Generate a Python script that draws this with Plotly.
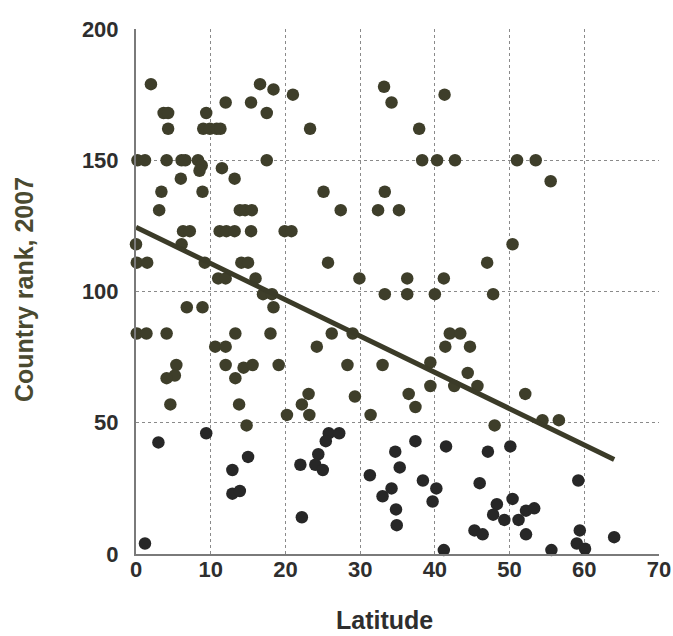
import plotly.graph_objects as go

latitude = [
    2.0, 3.7, 4.3, 4.3, 0.2, 1.2, 4.1, 6.1, 6.6, 8.3, 8.8, 8.5, 9.4, 9.0, 9.9, 10.8, 11.3,
    12.0, 15.4, 16.6, 18.4, 17.5, 21.0, 23.3, 17.5, 11.5, 13.2, 6.0, 3.4, 8.9, 3.1,
    13.9, 14.6, 15.5, 25.1, 27.4, 33.3, 32.4, 35.2, 6.3, 7.2, 11.2, 12.1, 13.2, 15.4,
    19.9, 20.8, 0.0, 6.1, 0.1, 1.5, 9.2, 14.1, 15.0, 25.7, 11.0, 12.0, 16.0, 29.9,
    33.2, 34.2, 17.0, 18.2, 33.3,
    41.3, 37.9, 38.3, 40.3, 42.7, 51.0, 53.5, 55.5, 50.4, 47.0, 36.3, 41.2, 36.3, 40.0, 47.8,
    6.8, 8.9, 18.4, 0.1, 1.4, 4.1, 13.3, 18.0, 26.2, 29.0, 10.6, 12.0, 24.2, 5.4, 5.2, 4.1,
    12.0, 14.4, 15.6, 13.3, 19.1, 28.3, 33.0, 4.6, 13.8, 14.8, 9.4, 3.0, 22.2, 23.1, 23.2,
    20.2, 29.3, 31.4, 25.8, 27.2, 25.4, 24.4, 24.0, 25.0, 22.0, 15.0, 12.9, 12.9, 13.9,
    22.2, 1.2, 31.3, 33.0, 34.2, 34.7, 35.3, 34.8, 34.9,
    42.0, 43.4, 41.4, 44.7, 39.4, 39.4, 44.4, 42.6, 45.7, 36.5, 37.4, 52.1, 54.4, 56.6,
    48.0, 37.4, 41.5, 47.1, 50.1, 38.4, 40.2, 39.7, 46.0, 48.3, 47.8, 49.3, 50.4, 51.2,
    52.2, 53.3, 52.2, 45.3, 46.4, 41.2, 55.6, 59.2, 59.4, 59.0, 60.1, 64.0,
]
rank = [
    179, 168, 168, 162, 150, 150, 150, 150, 150, 150, 148, 146, 168, 162, 162, 162, 162,
    172, 172, 179, 177, 168, 175, 162, 150, 147, 143, 143, 138, 138, 131,
    131, 131, 131, 138, 131, 138, 131, 131, 123, 123, 123, 123, 123, 123,
    123, 123, 118, 118, 111, 111, 111, 111, 111, 111, 105, 105, 105, 105,
    178, 172, 99, 99, 99,
    175, 162, 150, 150, 150, 150, 150, 142, 118, 111, 105, 105, 99, 99, 99,
    94, 94, 94, 84, 84, 84, 84, 84, 84, 84, 79, 79, 79, 72, 68, 67,
    72, 71, 72, 67, 72, 72, 72, 57, 57, 49, 46, 42.5, 57, 61, 53,
    53, 60, 53, 46, 46, 43, 38, 34, 32, 34, 37, 32, 23, 24,
    14, 4, 30, 22, 25, 39, 33, 17, 11,
    84, 84, 79, 79, 73, 64, 69, 64, 64, 61, 56, 61, 51, 51,
    49, 43, 41, 39, 41, 28, 25, 20, 27, 19, 15, 13, 21, 13,
    16.5, 17.4, 7.5, 9, 7.5, 1.5, 1.5, 28, 9, 4, 2, 6.4,
]
trend_lat = [0, 64]
trend_rank = [124.5, 36]

x_ticks = [0, 10, 20, 30, 40, 50, 60, 70]
y_ticks = [0, 50, 100, 150, 200]

colors = ["#3e3e2a" if r >= 48 else "#272727" for r in rank]

FONT = "Arial, Liberation Sans, sans-serif"

fig = go.Figure()
fig.add_trace(go.Scatter(
    x=latitude, y=rank, mode="markers",
    marker=dict(size=12.5, color=colors, line=dict(width=0)),
    showlegend=False, hoverinfo="skip", cliponaxis=False,
))
fig.add_trace(go.Scatter(
    x=trend_lat, y=trend_rank, mode="lines",
    line=dict(color="#3b3b28", width=5),
    showlegend=False, hoverinfo="skip",
))

tick_font = dict(family=FONT, size=22, color="#2e2e2e")
fig.update_layout(
    width=673, height=636,
    margin=dict(l=136, r=14, t=29, b=82),
    paper_bgcolor="white", plot_bgcolor="white",
    xaxis=dict(
        range=[0, 70], tickvals=x_ticks, ticktext=[f"<b>{v}</b>" for v in x_ticks],
        showgrid=True, gridcolor="#8a8a8a", griddash="dot", gridwidth=1,
        showline=True, linecolor="#7a7a7a", linewidth=2, zeroline=False,
        ticks="", tickfont=tick_font, ticklabelstandoff=-5, automargin=False,
    ),
    yaxis=dict(
        range=[0, 200], tickvals=y_ticks, ticktext=[f"<b>{v}</b>" for v in y_ticks],
        showgrid=True, gridcolor="#8a8a8a", griddash="dot", gridwidth=1,
        showline=True, linecolor="#7a7a7a", linewidth=2, zeroline=False,
        ticks="", tickfont=tick_font, ticklabelstandoff=11, automargin=False,
    ),
    annotations=[
        dict(text="<b>Latitude</b>", xref="paper", yref="paper", x=0.476, y=-0.125,
             xanchor="center", yanchor="middle", showarrow=False,
             font=dict(family=FONT, size=25, color="#2e2e2e")),
        dict(text="<b>Country rank, 2007</b>", xref="paper", yref="paper", x=-0.214, y=0.503,
             xanchor="center", yanchor="middle", showarrow=False, textangle=-90,
             font=dict(family=FONT, size=25, color="#4a4a30")),
    ],
)
fig.write_html(
    "out.html",
    config={"displayModeBar": False},
    post_script=(
        "document.documentElement.style.margin='0';"
        "document.body.style.margin='0';"
        "document.documentElement.style.overflow='hidden';"
        "document.body.style.overflow='hidden';"
    ),
)
